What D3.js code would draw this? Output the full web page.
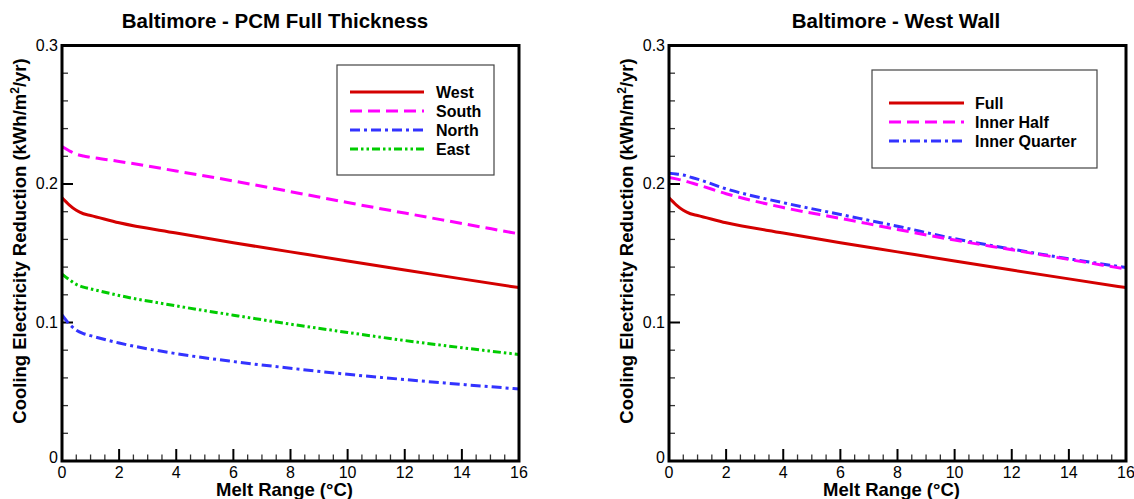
<!DOCTYPE html>
<html>
<head>
<meta charset="utf-8">
<script src="https://cdn.jsdelivr.net/npm/d3@7"></script>
<style>
  body { margin: 0; background: #fff; }
  text { font-family: "Liberation Sans", Arial, sans-serif; fill: #000; }
  .title { font-size: 20.5px; font-weight: bold; }
  .axis-title { font-size: 18.5px; font-weight: bold; }
  .tick-label { font-size: 16px; }
  .legend-text { font-size: 16px; font-weight: bold; }
</style>
</head>
<body>
<div id="viz"></div>
<script>
// DATA
const meltRange = [0, 0.25, 0.5, 0.75, 1, 2, 4, 6, 8, 10, 12, 14, 16]
const west  = [0.190, 0.185, 0.181, 0.1785, 0.1773, 0.1720, 0.1646, 0.1576, 0.1510, 0.1444, 0.1379, 0.1315, 0.1252]
const south = [0.227, 0.224, 0.2215, 0.2202, 0.2193, 0.2163, 0.2094, 0.2022, 0.1945, 0.1866, 0.1790, 0.1715, 0.164]
const north = [0.1054, 0.099, 0.0945, 0.092, 0.0905, 0.0852, 0.0775, 0.0718, 0.0670, 0.0626, 0.0588, 0.0553, 0.052]
const east  = [0.135, 0.131, 0.1275, 0.1255, 0.1243, 0.1195, 0.1120, 0.1053, 0.0988, 0.0928, 0.0870, 0.0818, 0.0769]

const innerHalf    = [0.2048, 0.2037, 0.2025, 0.2010, 0.1995, 0.1930, 0.1830, 0.1752, 0.1672, 0.1595, 0.1525, 0.1455, 0.1386]
const innerQuarter = [0.2077, 0.2072, 0.2065, 0.2050, 0.2035, 0.1965, 0.1865, 0.1780, 0.1695, 0.1605, 0.1530, 0.1460, 0.1397]

const xTicks = [0, 2, 4, 6, 8, 10, 12, 14, 16]
const yTicks = [0, 0.1, 0.2, 0.3]

const RED = "#d40000", MAGENTA = "#ff00ff", BLUE = "#3333ff", GREEN = "#00cc00"

const PANELS = [
  { title: "Baltimore - PCM Full Thickness", left: 62, right: 519, titleX: 275,
    legend: { x: 337, y: 65, w: 157, h: 110, lineY: 92, step: 19, x1: 350, x2: 424, tx: 436 },
    series: [
      { name: "West",  values: west,  color: RED,     dash: null },
      { name: "South", values: south, color: MAGENTA, dash: "12,6" },
      { name: "North", values: north, color: BLUE,    dash: "10,4,3,4" },
      { name: "East",  values: east,  color: GREEN,   dash: "8,3,2.5,3,2.5,3" }
    ] },
  { title: "Baltimore - West Wall", left: 669, right: 1126, titleX: 896,
    legend: { x: 872, y: 70, w: 225, h: 98, lineY: 103, step: 19, x1: 889, x2: 964, tx: 975 },
    series: [
      { name: "Full",          values: west,         color: RED,     dash: null },
      { name: "Inner Half",    values: innerHalf,    color: MAGENTA, dash: "12,6" },
      { name: "Inner Quarter", values: innerQuarter, color: BLUE,    dash: "10,4,3,4" }
    ] }
]

var TOP = 45.5, BOTTOM = 461

const svg = d3.select("#viz").append("svg")
  .attr("width", 1134)
  .attr("height", 499)

PANELS.forEach(drawPanel)

function drawPanel(p) {
  const x = d3.scaleLinear().domain([0, 16]).range([p.left, p.right])
  const y = d3.scaleLinear().domain([0, 0.3]).range([BOTTOM, TOP])
  const g = svg.append("g")

  // title
  g.append("text").attr("class", "title")
    .attr("x", p.titleX).attr("y", 28)
    .attr("text-anchor", "middle")
    .text(p.title)

  // minor + major ticks, drawn inward
  const xMinor = d3.range(0, 16.001, 0.5).filter(v => v % 2 !== 0)
  const yMinor = d3.range(0, 0.3001, 0.02).filter(v => Math.abs(v * 10 - Math.round(v * 10)) > 1e-6)

  g.selectAll(".xminor").data(xMinor).join("line")
    .attr("x1", d => x(d)).attr("x2", d => x(d))
    .attr("y1", BOTTOM).attr("y2", BOTTOM - 6.5)
    .attr("stroke", "#333").attr("stroke-width", 1.3)
  g.selectAll(".xmajor").data(xTicks).join("line")
    .attr("x1", d => x(d)).attr("x2", d => x(d))
    .attr("y1", BOTTOM).attr("y2", BOTTOM - 12)
    .attr("stroke", "#000").attr("stroke-width", 2)
  g.selectAll(".yminor").data(yMinor).join("line")
    .attr("x1", p.left).attr("x2", p.left + 6)
    .attr("y1", d => y(d)).attr("y2", d => y(d))
    .attr("stroke", "#333").attr("stroke-width", 1.3)
  g.selectAll(".ymajor").data(yTicks).join("line")
    .attr("x1", p.left).attr("x2", p.left + 11)
    .attr("y1", d => y(d)).attr("y2", d => y(d))
    .attr("stroke", "#000").attr("stroke-width", 2)

  // tick labels
  g.selectAll(".xlab").data(xTicks).join("text").attr("class", "tick-label")
    .attr("x", d => x(d)).attr("y", BOTTOM + 16.5)
    .attr("text-anchor", "middle")
    .text(d => d)
  g.selectAll(".ylab").data(yTicks).join("text").attr("class", "tick-label")
    .attr("x", p.left - 4).attr("y", d => y(d) + (d === 0 ? 2 : 5))
    .attr("text-anchor", "end")
    .text(d => d === 0 ? "0" : d.toFixed(1))

  // axis titles
  g.append("text").attr("class", "axis-title")
    .attr("x", (p.left + p.right) / 2 - 6).attr("y", 496)
    .attr("text-anchor", "middle")
    .text("Melt Range (\u00B0C)")
  const yt = g.append("text").attr("class", "axis-title")
    .attr("transform", `translate(${p.left - 36}, 241) rotate(-90)`)
    .attr("text-anchor", "middle")
  yt.append("tspan").text("Cooling Electricity Reduction (kWh/m")
  yt.append("tspan").attr("baseline-shift", "super").attr("font-size", "12px").text("2")
  yt.append("tspan").text("/yr)")

  // clip for curves
  const clipId = "clip" + p.left
  svg.append("clipPath").attr("id", clipId).append("rect")
    .attr("x", p.left).attr("y", TOP).attr("width", p.right - p.left).attr("height", BOTTOM - TOP)

  const line = d3.line()
    .curve(d3.curveMonotoneX)
    .x((d, i) => x(meltRange[i]))
    .y(d => y(d))

  g.selectAll(".curve").data(p.series.slice().reverse()).join("path")
    .attr("d", d => line(d.values))
    .attr("clip-path", `url(#${clipId})`)
    .attr("fill", "none")
    .attr("stroke", d => d.color)
    .attr("stroke-width", 3)
    .attr("stroke-dasharray", d => d.dash)

  // frame
  g.append("rect")
    .attr("x", p.left).attr("y", TOP)
    .attr("width", p.right - p.left).attr("height", BOTTOM - TOP)
    .attr("fill", "none").attr("stroke", "#000").attr("stroke-width", 3)

  // legend
  const L = p.legend
  g.append("rect")
    .attr("x", L.x).attr("y", L.y).attr("width", L.w).attr("height", L.h)
    .attr("fill", "#fff").attr("stroke", "#444").attr("stroke-width", 1.2)
  const items = g.selectAll(".leg").data(p.series).join("g")
    .attr("transform", (d, i) => `translate(0, ${L.lineY + i * L.step})`)
  items.append("line")
    .attr("x1", L.x1).attr("x2", L.x2).attr("y1", 0).attr("y2", 0)
    .attr("stroke", d => d.color).attr("stroke-width", 3)
    .attr("stroke-dasharray", d => d.dash)
  items.append("text").attr("class", "legend-text")
    .attr("x", L.tx).attr("y", 6)
    .text(d => d.name)
}
</script>
</body>
</html>
